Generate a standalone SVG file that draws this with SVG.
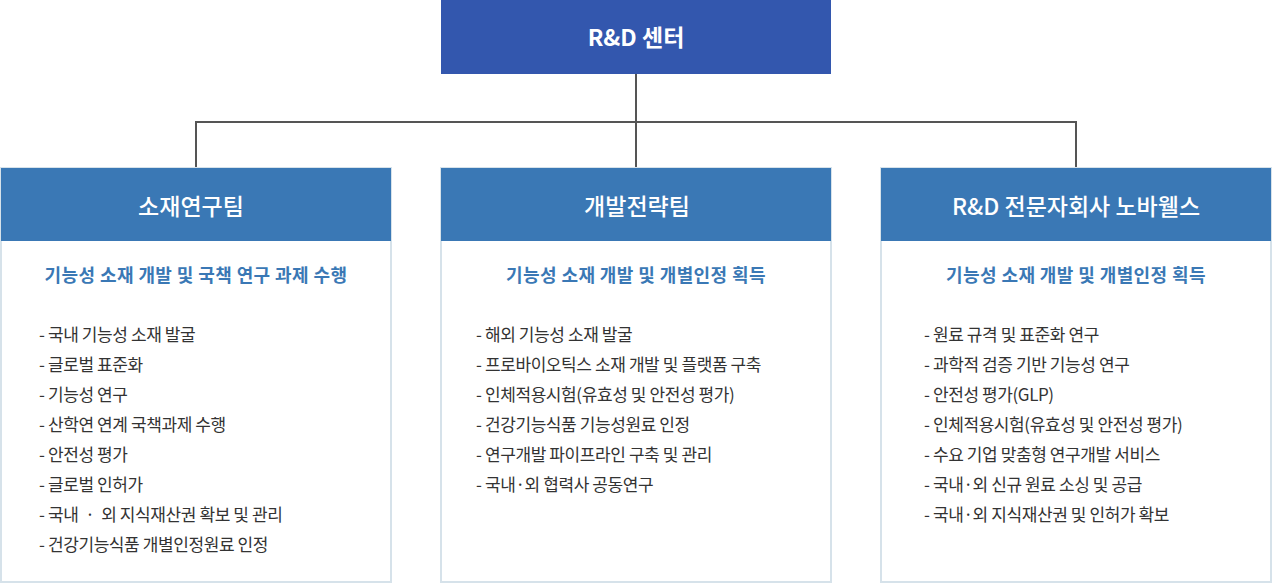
<svg xmlns="http://www.w3.org/2000/svg" width="1272" height="583" viewBox="0 0 1272 583">
<style>
text{font-family:"Noto Sans CJK KR","Noto Sans",sans-serif}
.top{fill:#3357ae}
.hd{fill:#3a78b5}
.box{fill:#fff;stroke:#d6e2ea;stroke-width:2}
.tt{fill:#fff;font-size:23px;font-weight:700;text-anchor:middle}
.ht{fill:#fff;font-size:23px;font-weight:500;text-anchor:middle}
.st{fill:#3a78b5;font-size:18px;font-weight:700;text-anchor:middle;letter-spacing:0.4px}
.li{fill:#333;font-size:17px;font-weight:400;letter-spacing:-0.4px}
.ln{stroke:#555;stroke-width:2;fill:none}
</style>
<g id="connectors">
<path class="ln" d="M636 74V168M196 122H1076M196 121V168M1076 121V168"/>
</g>
<g id="center">
<rect class="top" x="441" y="0" width="390" height="74"/>
<text class="tt" x="636" y="46">R&amp;D 센터</text>
</g>
<g id="team1">
<rect class="box" x="1" y="168" width="390" height="414"/>
<rect class="hd" x="1" y="168" width="390" height="73"/>
<text class="ht" x="191" y="215">소재연구팀</text>
<text class="st" x="196" y="282">기능성 소재 개발 및 국책 연구 과제 수행</text>
<text class="li" x="39" y="341">- 국내 기능성 소재 발굴</text>
<text class="li" x="39" y="371">- 글로벌 표준화</text>
<text class="li" x="39" y="401">- 기능성 연구</text>
<text class="li" x="39" y="431">- 산학연 연계 국책과제 수행</text>
<text class="li" x="39" y="461">- 안전성 평가</text>
<text class="li" x="39" y="491">- 글로벌 인허가</text>
<text class="li" x="39" y="521" xml:space="preserve">- 국내  ·  외 지식재산권 확보 및 관리</text>
<text class="li" x="39" y="551">- 건강기능식품 개별인정원료 인정</text>
</g>
<g id="team2">
<rect class="box" x="441" y="168" width="390" height="414"/>
<rect class="hd" x="441" y="168" width="390" height="73"/>
<text class="ht" x="637" y="215">개발전략팀</text>
<text class="st" x="636" y="282">기능성 소재 개발 및 개별인정 획득</text>
<text class="li" x="476" y="341">- 해외 기능성 소재 발굴</text>
<text class="li" x="476" y="371">- 프로바이오틱스 소재 개발 및 플랫폼 구축</text>
<text class="li" x="476" y="401">- 인체적용시험(유효성 및 안전성 평가)</text>
<text class="li" x="476" y="431">- 건강기능식품 기능성원료 인정</text>
<text class="li" x="476" y="461">- 연구개발 파이프라인 구축 및 관리</text>
<text class="li" x="476" y="491">- 국내·외 협력사 공동연구</text>
</g>
<g id="team3">
<rect class="box" x="881" y="168" width="390" height="414"/>
<rect class="hd" x="881" y="168" width="390" height="73"/>
<text class="ht" x="1076" y="215">R&amp;D 전문자회사 노바웰스</text>
<text class="st" x="1076" y="282">기능성 소재 개발 및 개별인정 획득</text>
<text class="li" x="924" y="341">- 원료 규격 및 표준화 연구</text>
<text class="li" x="924" y="371">- 과학적 검증 기반 기능성 연구</text>
<text class="li" x="924" y="401">- 안전성 평가(GLP)</text>
<text class="li" x="924" y="431">- 인체적용시험(유효성 및 안전성 평가)</text>
<text class="li" x="924" y="461">- 수요 기업 맞춤형 연구개발 서비스</text>
<text class="li" x="924" y="491">- 국내·외 신규 원료 소싱 및 공급</text>
<text class="li" x="924" y="521">- 국내·외 지식재산권 및 인허가 확보</text>
</g>
</svg>
